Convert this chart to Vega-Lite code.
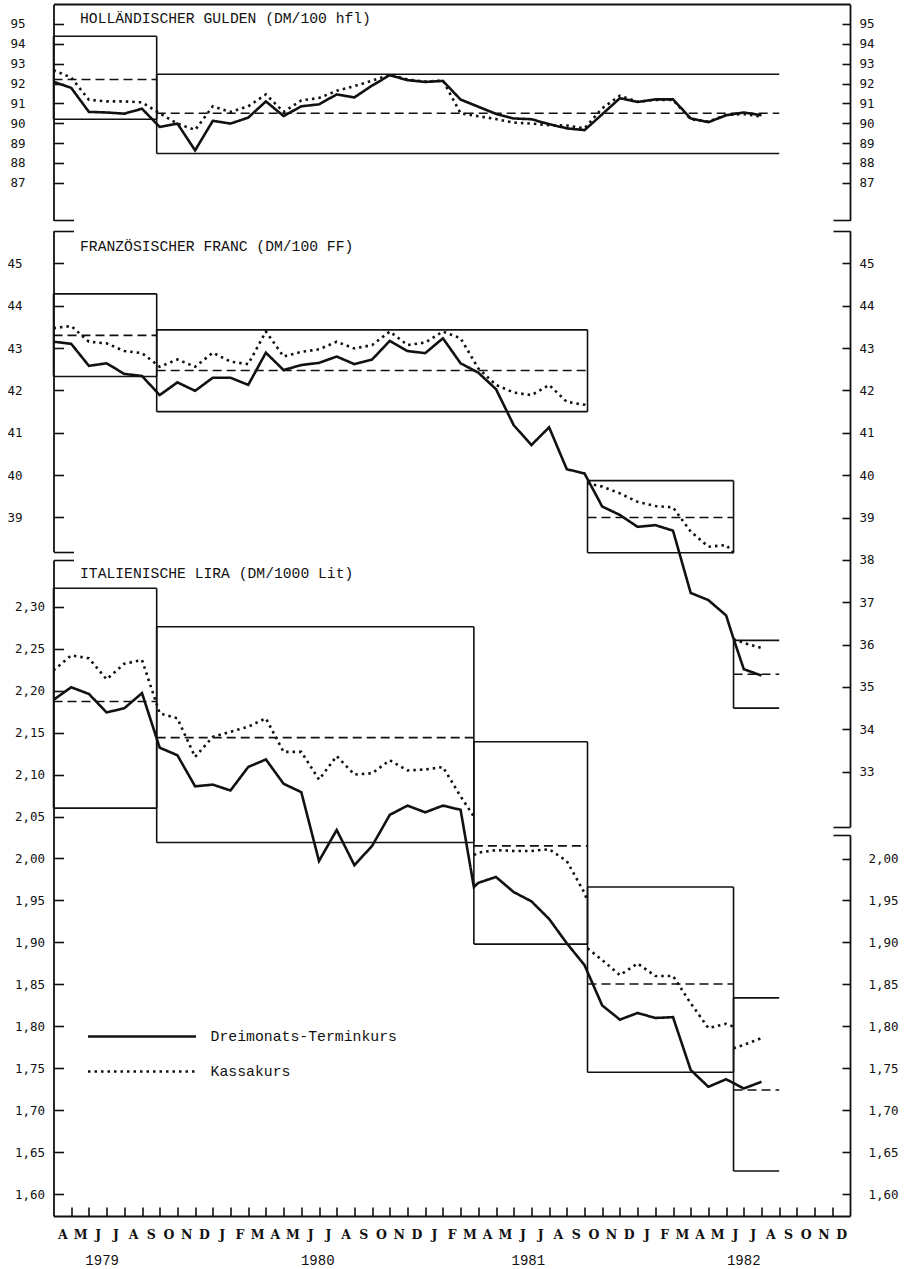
{
"$schema": "https://vega.github.io/schema/vega-lite/v6.json",
"width": 796.5, "height": 1212,
"autosize": "none",
"padding": {"left": 53.5, "top": 4, "right": 61, "bottom": 53},
"background": "white",
"config": {
 "view": {"stroke": null},
 "axis": {"domainColor": "#111", "domainWidth": 1.8, "tickColor": "#111", "tickWidth": 1.6, "labelColor": "#111", "labelFont": "DejaVu Sans Mono", "labelFontSize": 12.5, "grid": false, "title": null, "labelOverlap": false, "labelFlush": false, "labelBound": false},
 "legend": {"title": null, "orient": "none", "legendX": 78, "legendY": 1022, "padding": 0, "direction": "vertical", "symbolType": "M-6,0H6", "symbolSize": 324, "symbolStrokeWidth": 2.6, "symbolStrokeColor": "#111", "symbolFillColor": "transparent", "labelFont": "Liberation Mono", "labelFontSize": 14.8, "labelColor": "#111", "labelOffset": 58, "rowPadding": 17, "labelLimit": 400},
 "rule": {"color": "#111", "strokeWidth": 1.6},
 "line": {"color": "#111"},
 "text": {"color": "#111"}
},
"datasets": {
 "bands": [
  {"c":"G","x1":0,"x2":5.83,"upper":94.38,"central":92.2,"lower":90.2},
  {"c":"G","x1":5.83,"x2":41,"upper":92.47,"central":90.5,"lower":88.47},
  {"c":"F","x1":0,"x2":5.83,"upper":44.28,"central":43.3,"lower":42.33},
  {"c":"F","x1":5.83,"x2":30.17,"upper":43.43,"central":42.47,"lower":41.5},
  {"c":"F","x1":30.17,"x2":38.42,"upper":39.87,"central":39.0,"lower":38.17},
  {"c":"F","x1":38.42,"x2":41,"upper":36.1,"central":35.3,"lower":34.5},
  {"c":"L","x1":0,"x2":5.83,"upper":2.322,"central":2.187,"lower":2.06},
  {"c":"L","x1":5.83,"x2":23.75,"upper":2.276,"central":2.144,"lower":2.019},
  {"c":"L","x1":23.75,"x2":30.17,"upper":2.139,"central":2.015,"lower":1.898},
  {"c":"L","x1":30.17,"x2":38.42,"upper":1.966,"central":1.8505,"lower":1.7453},
  {"c":"L","x1":38.42,"x2":41,"upper":1.834,"central":1.7242,"lower":1.6277}
 ],
 "series": [
  {"c":"G","t":"D","s":1,"m":0,"v":92.09},{"c":"G","t":"D","s":1,"m":1,"v":91.78},{"c":"G","t":"D","s":1,"m":2,"v":90.57},{"c":"G","t":"D","s":1,"m":3,"v":90.54},{"c":"G","t":"D","s":1,"m":4,"v":90.48},{"c":"G","t":"D","s":1,"m":5,"v":90.73},{"c":"G","t":"D","s":1,"m":6,"v":89.81},{"c":"G","t":"D","s":1,"m":7,"v":89.98},{"c":"G","t":"D","s":1,"m":8,"v":88.63},{"c":"G","t":"D","s":1,"m":9,"v":90.12},{"c":"G","t":"D","s":1,"m":10,"v":89.98},{"c":"G","t":"D","s":1,"m":11,"v":90.28},{"c":"G","t":"D","s":1,"m":12,"v":91.1},{"c":"G","t":"D","s":1,"m":13,"v":90.36},{"c":"G","t":"D","s":1,"m":14,"v":90.85},{"c":"G","t":"D","s":1,"m":15,"v":90.95},{"c":"G","t":"D","s":1,"m":16,"v":91.45},{"c":"G","t":"D","s":1,"m":17,"v":91.3},{"c":"G","t":"D","s":1,"m":18,"v":91.9},{"c":"G","t":"D","s":1,"m":19,"v":92.42},{"c":"G","t":"D","s":1,"m":20,"v":92.17},{"c":"G","t":"D","s":1,"m":21,"v":92.08},{"c":"G","t":"D","s":1,"m":22,"v":92.13},{"c":"G","t":"D","s":1,"m":23,"v":91.19},{"c":"G","t":"D","s":1,"m":24,"v":90.83},{"c":"G","t":"D","s":1,"m":25,"v":90.47},{"c":"G","t":"D","s":1,"m":26,"v":90.24},{"c":"G","t":"D","s":1,"m":27,"v":90.2},{"c":"G","t":"D","s":1,"m":28,"v":89.95},{"c":"G","t":"D","s":1,"m":29,"v":89.74},{"c":"G","t":"D","s":1,"m":30,"v":89.65},{"c":"G","t":"D","s":1,"m":31,"v":90.45},{"c":"G","t":"D","s":1,"m":32,"v":91.26},{"c":"G","t":"D","s":1,"m":33,"v":91.07},{"c":"G","t":"D","s":1,"m":34,"v":91.2},{"c":"G","t":"D","s":1,"m":35,"v":91.2},{"c":"G","t":"D","s":1,"m":36,"v":90.24},{"c":"G","t":"D","s":1,"m":37,"v":90.05},{"c":"G","t":"D","s":1,"m":38,"v":90.4},{"c":"G","t":"D","s":1,"m":39,"v":90.54},{"c":"G","t":"D","s":1,"m":40,"v":90.4},
  {"c":"G","t":"K","s":1,"m":0,"v":92.67},{"c":"G","t":"K","s":1,"m":1,"v":92.3},{"c":"G","t":"K","s":1,"m":2,"v":91.18},{"c":"G","t":"K","s":1,"m":3,"v":91.1},{"c":"G","t":"K","s":1,"m":4,"v":91.1},{"c":"G","t":"K","s":1,"m":5,"v":91.05},{"c":"G","t":"K","s":1,"m":6,"v":90.5},{"c":"G","t":"K","s":1,"m":7,"v":89.98},{"c":"G","t":"K","s":1,"m":8,"v":89.66},{"c":"G","t":"K","s":1,"m":9,"v":90.85},{"c":"G","t":"K","s":1,"m":10,"v":90.57},{"c":"G","t":"K","s":1,"m":11,"v":90.85},{"c":"G","t":"K","s":1,"m":12,"v":91.45},{"c":"G","t":"K","s":1,"m":13,"v":90.57},{"c":"G","t":"K","s":1,"m":14,"v":91.15},{"c":"G","t":"K","s":1,"m":15,"v":91.27},{"c":"G","t":"K","s":1,"m":16,"v":91.63},{"c":"G","t":"K","s":1,"m":17,"v":91.87},{"c":"G","t":"K","s":1,"m":18,"v":92.14},{"c":"G","t":"K","s":1,"m":19,"v":92.45},{"c":"G","t":"K","s":1,"m":20,"v":92.2},{"c":"G","t":"K","s":1,"m":21,"v":92.1},{"c":"G","t":"K","s":1,"m":22,"v":92.15},{"c":"G","t":"K","s":1,"m":23,"v":90.5},{"c":"G","t":"K","s":1,"m":24,"v":90.35},{"c":"G","t":"K","s":1,"m":25,"v":90.21},{"c":"G","t":"K","s":1,"m":26,"v":90.03},{"c":"G","t":"K","s":1,"m":27,"v":89.98},{"c":"G","t":"K","s":1,"m":28,"v":89.9},{"c":"G","t":"K","s":1,"m":29,"v":89.88},{"c":"G","t":"K","s":1,"m":30,"v":89.74},{"c":"G","t":"K","s":1,"m":31,"v":90.75},{"c":"G","t":"K","s":1,"m":32,"v":91.39},{"c":"G","t":"K","s":1,"m":33,"v":91.08},{"c":"G","t":"K","s":1,"m":34,"v":91.17},{"c":"G","t":"K","s":1,"m":35,"v":91.17},{"c":"G","t":"K","s":1,"m":36,"v":90.2},{"c":"G","t":"K","s":1,"m":37,"v":90.08},{"c":"G","t":"K","s":1,"m":38,"v":90.41},{"c":"G","t":"K","s":1,"m":39,"v":90.46},{"c":"G","t":"K","s":1,"m":40,"v":90.33},
  {"c":"F","t":"D","s":1,"m":0,"v":43.15},{"c":"F","t":"D","s":1,"m":1,"v":43.1},{"c":"F","t":"D","s":1,"m":2,"v":42.58},{"c":"F","t":"D","s":1,"m":3,"v":42.64},{"c":"F","t":"D","s":1,"m":4,"v":42.39},{"c":"F","t":"D","s":1,"m":5,"v":42.34},{"c":"F","t":"D","s":1,"m":6,"v":41.89},{"c":"F","t":"D","s":1,"m":7,"v":42.19},{"c":"F","t":"D","s":1,"m":8,"v":41.99},{"c":"F","t":"D","s":1,"m":9,"v":42.3},{"c":"F","t":"D","s":1,"m":10,"v":42.3},{"c":"F","t":"D","s":1,"m":11,"v":42.13},{"c":"F","t":"D","s":1,"m":12,"v":42.89},{"c":"F","t":"D","s":1,"m":13,"v":42.48},{"c":"F","t":"D","s":1,"m":14,"v":42.6},{"c":"F","t":"D","s":1,"m":15,"v":42.65},{"c":"F","t":"D","s":1,"m":16,"v":42.8},{"c":"F","t":"D","s":1,"m":17,"v":42.62},{"c":"F","t":"D","s":1,"m":18,"v":42.73},{"c":"F","t":"D","s":1,"m":19,"v":43.17},{"c":"F","t":"D","s":1,"m":20,"v":42.93},{"c":"F","t":"D","s":1,"m":21,"v":42.88},{"c":"F","t":"D","s":1,"m":22,"v":43.23},{"c":"F","t":"D","s":1,"m":23,"v":42.64},{"c":"F","t":"D","s":1,"m":24,"v":42.42},{"c":"F","t":"D","s":1,"m":25,"v":42.03},{"c":"F","t":"D","s":1,"m":26,"v":41.18},{"c":"F","t":"D","s":1,"m":27,"v":40.71},{"c":"F","t":"D","s":1,"m":28,"v":41.13},{"c":"F","t":"D","s":1,"m":29,"v":40.14},{"c":"F","t":"D","s":1,"m":30,"v":40.04},{"c":"F","t":"D","s":1,"m":31,"v":39.26},{"c":"F","t":"D","s":1,"m":32,"v":39.06},{"c":"F","t":"D","s":1,"m":33,"v":38.78},{"c":"F","t":"D","s":1,"m":34,"v":38.82},{"c":"F","t":"D","s":1,"m":35,"v":38.69},{"c":"F","t":"D","s":1,"m":36,"v":37.22},{"c":"F","t":"D","s":1,"m":37,"v":37.05},{"c":"F","t":"D","s":1,"m":38,"v":36.69},{"c":"F","t":"D","s":1,"m":38.42,"v":36.14},{"c":"F","t":"D","s":1,"m":39,"v":35.42},{"c":"F","t":"D","s":1,"m":40,"v":35.27},
  {"c":"F","t":"K","s":1,"m":0,"v":43.47},{"c":"F","t":"K","s":1,"m":1,"v":43.52},{"c":"F","t":"K","s":1,"m":2,"v":43.15},{"c":"F","t":"K","s":1,"m":3,"v":43.11},{"c":"F","t":"K","s":1,"m":4,"v":42.93},{"c":"F","t":"K","s":1,"m":5,"v":42.88},{"c":"F","t":"K","s":1,"m":6,"v":42.56},{"c":"F","t":"K","s":1,"m":7,"v":42.73},{"c":"F","t":"K","s":1,"m":8,"v":42.56},{"c":"F","t":"K","s":1,"m":9,"v":42.89},{"c":"F","t":"K","s":1,"m":10,"v":42.68},{"c":"F","t":"K","s":1,"m":11,"v":42.62},{"c":"F","t":"K","s":1,"m":12,"v":43.39},{"c":"F","t":"K","s":1,"m":13,"v":42.8},{"c":"F","t":"K","s":1,"m":14,"v":42.91},{"c":"F","t":"K","s":1,"m":15,"v":42.97},{"c":"F","t":"K","s":1,"m":16,"v":43.15},{"c":"F","t":"K","s":1,"m":17,"v":42.99},{"c":"F","t":"K","s":1,"m":18,"v":43.07},{"c":"F","t":"K","s":1,"m":19,"v":43.39},{"c":"F","t":"K","s":1,"m":20,"v":43.07},{"c":"F","t":"K","s":1,"m":21,"v":43.13},{"c":"F","t":"K","s":1,"m":22,"v":43.39},{"c":"F","t":"K","s":1,"m":23,"v":43.23},{"c":"F","t":"K","s":1,"m":24,"v":42.52},{"c":"F","t":"K","s":1,"m":25,"v":42.13},{"c":"F","t":"K","s":1,"m":26,"v":41.95},{"c":"F","t":"K","s":1,"m":27,"v":41.89},{"c":"F","t":"K","s":1,"m":28,"v":42.13},{"c":"F","t":"K","s":1,"m":29,"v":41.73},{"c":"F","t":"K","s":1,"m":30,"v":41.66},{"c":"F","t":"K","s":1,"m":30.17,"v":41.6},
  {"c":"F","t":"K","s":2,"m":30.17,"v":39.81},{"c":"F","t":"K","s":2,"m":31,"v":39.73},{"c":"F","t":"K","s":2,"m":32,"v":39.57},{"c":"F","t":"K","s":2,"m":33,"v":39.37},{"c":"F","t":"K","s":2,"m":34,"v":39.27},{"c":"F","t":"K","s":2,"m":35,"v":39.24},{"c":"F","t":"K","s":2,"m":36,"v":38.67},{"c":"F","t":"K","s":2,"m":37,"v":38.31},{"c":"F","t":"K","s":2,"m":38,"v":38.35},{"c":"F","t":"K","s":2,"m":38.42,"v":38.16},
  {"c":"F","t":"K","s":3,"m":38.42,"v":36.13},{"c":"F","t":"K","s":3,"m":39,"v":36.04},{"c":"F","t":"K","s":3,"m":40,"v":35.92},
  {"c":"L","t":"D","s":1,"m":0,"v":2.189},{"c":"L","t":"D","s":1,"m":1,"v":2.204},{"c":"L","t":"D","s":1,"m":2,"v":2.196},{"c":"L","t":"D","s":1,"m":3,"v":2.174},{"c":"L","t":"D","s":1,"m":4,"v":2.179},{"c":"L","t":"D","s":1,"m":5,"v":2.197},{"c":"L","t":"D","s":1,"m":6,"v":2.132},{"c":"L","t":"D","s":1,"m":7,"v":2.123},{"c":"L","t":"D","s":1,"m":8,"v":2.086},{"c":"L","t":"D","s":1,"m":9,"v":2.088},{"c":"L","t":"D","s":1,"m":10,"v":2.081},{"c":"L","t":"D","s":1,"m":11,"v":2.109},{"c":"L","t":"D","s":1,"m":12,"v":2.118},{"c":"L","t":"D","s":1,"m":13,"v":2.089},{"c":"L","t":"D","s":1,"m":14,"v":2.079},{"c":"L","t":"D","s":1,"m":15,"v":1.997},{"c":"L","t":"D","s":1,"m":16,"v":2.034},{"c":"L","t":"D","s":1,"m":17,"v":1.992},{"c":"L","t":"D","s":1,"m":18,"v":2.015},{"c":"L","t":"D","s":1,"m":19,"v":2.052},{"c":"L","t":"D","s":1,"m":20,"v":2.063},{"c":"L","t":"D","s":1,"m":21,"v":2.055},{"c":"L","t":"D","s":1,"m":22,"v":2.063},{"c":"L","t":"D","s":1,"m":23,"v":2.058},{"c":"L","t":"D","s":1,"m":23.75,"v":1.966},{"c":"L","t":"D","s":1,"m":24,"v":1.971},{"c":"L","t":"D","s":1,"m":25,"v":1.978},{"c":"L","t":"D","s":1,"m":26,"v":1.96},{"c":"L","t":"D","s":1,"m":27,"v":1.949},{"c":"L","t":"D","s":1,"m":28,"v":1.928},{"c":"L","t":"D","s":1,"m":29,"v":1.899},{"c":"L","t":"D","s":1,"m":30,"v":1.873},{"c":"L","t":"D","s":1,"m":31,"v":1.825},{"c":"L","t":"D","s":1,"m":32,"v":1.808},{"c":"L","t":"D","s":1,"m":33,"v":1.816},{"c":"L","t":"D","s":1,"m":34,"v":1.81},{"c":"L","t":"D","s":1,"m":35,"v":1.811},{"c":"L","t":"D","s":1,"m":36,"v":1.748},{"c":"L","t":"D","s":1,"m":37,"v":1.728},{"c":"L","t":"D","s":1,"m":38,"v":1.737},{"c":"L","t":"D","s":1,"m":39,"v":1.726},{"c":"L","t":"D","s":1,"m":40,"v":1.734},
  {"c":"L","t":"K","s":1,"m":0,"v":2.224},{"c":"L","t":"K","s":1,"m":1,"v":2.242},{"c":"L","t":"K","s":1,"m":2,"v":2.2385},{"c":"L","t":"K","s":1,"m":3,"v":2.2135},{"c":"L","t":"K","s":1,"m":4,"v":2.232},{"c":"L","t":"K","s":1,"m":5,"v":2.2365},{"c":"L","t":"K","s":1,"m":6,"v":2.173},{"c":"L","t":"K","s":1,"m":7,"v":2.167},{"c":"L","t":"K","s":1,"m":8,"v":2.121},{"c":"L","t":"K","s":1,"m":9,"v":2.145},{"c":"L","t":"K","s":1,"m":10,"v":2.151},{"c":"L","t":"K","s":1,"m":11,"v":2.157},{"c":"L","t":"K","s":1,"m":12,"v":2.167},{"c":"L","t":"K","s":1,"m":13,"v":2.127},{"c":"L","t":"K","s":1,"m":14,"v":2.127},{"c":"L","t":"K","s":1,"m":15,"v":2.094},{"c":"L","t":"K","s":1,"m":16,"v":2.122},{"c":"L","t":"K","s":1,"m":17,"v":2.1},{"c":"L","t":"K","s":1,"m":18,"v":2.1015},{"c":"L","t":"K","s":1,"m":19,"v":2.117},{"c":"L","t":"K","s":1,"m":20,"v":2.105},{"c":"L","t":"K","s":1,"m":21,"v":2.106},{"c":"L","t":"K","s":1,"m":22,"v":2.109},{"c":"L","t":"K","s":1,"m":23,"v":2.074},{"c":"L","t":"K","s":1,"m":23.75,"v":2.05},
  {"c":"L","t":"K","s":2,"m":23.75,"v":2.004},{"c":"L","t":"K","s":2,"m":24,"v":2.007},{"c":"L","t":"K","s":2,"m":25,"v":2.01},{"c":"L","t":"K","s":2,"m":26,"v":2.009},{"c":"L","t":"K","s":2,"m":27,"v":2.009},{"c":"L","t":"K","s":2,"m":28,"v":2.011},{"c":"L","t":"K","s":2,"m":29,"v":1.997},{"c":"L","t":"K","s":2,"m":30,"v":1.959},{"c":"L","t":"K","s":2,"m":30.17,"v":1.949},
  {"c":"L","t":"K","s":3,"m":30.17,"v":1.893},{"c":"L","t":"K","s":3,"m":31,"v":1.879},{"c":"L","t":"K","s":3,"m":32,"v":1.861},{"c":"L","t":"K","s":3,"m":33,"v":1.875},{"c":"L","t":"K","s":3,"m":34,"v":1.86},{"c":"L","t":"K","s":3,"m":35,"v":1.86},{"c":"L","t":"K","s":3,"m":36,"v":1.8275},{"c":"L","t":"K","s":3,"m":37,"v":1.798},{"c":"L","t":"K","s":3,"m":38,"v":1.803},{"c":"L","t":"K","s":3,"m":38.42,"v":1.7996},
  {"c":"L","t":"K","s":4,"m":38.42,"v":1.774},{"c":"L","t":"K","s":4,"m":39,"v":1.778},{"c":"L","t":"K","s":4,"m":40,"v":1.786}
 ],
 "titles": [
  {"c":"G","label":"HOLLÄNDISCHER GULDEN (DM/100 hfl)"},
  {"c":"F","label":"FRANZÖSISCHER FRANC (DM/100 FF)"},
  {"c":"L","label":"ITALIENISCHE LIRA (DM/1000 Lit)"}
 ]
},
"layer": [
 {"data": {"name": "bands"}, "transform": [{"filter": "datum.c == 'G'"}], "mark": {"type": "rule"},
  "encoding": {
   "x": {"field": "x1", "type": "quantitative", "scale": {"domain": [0, 45], "nice": false, "zero": false},
     "axis": {"orient": "bottom", "values": [1,2,3,4,5,6,7,8,9,10,11,12,13,14,15,16,17,18,19,20,21,22,23,24,25,26,27,28,29,30,31,32,33,34,35,36,37,38,39,40,41,42,43,44], "labels": false, "tickSize": -9, "domain": true, "title": null}},
   "x2": {"field": "x2"},
   "y": {"field": "upper", "type": "quantitative", "scale": {"domain": [85.1, 96], "range": [216.4, 0.16], "nice": false, "zero": false},
     "axis": {"orient": "left", "values": [85.1,87,88,89,90,91,92,93,94,95], "tickSize": {"condition": {"test": "datum.value < 86", "value": -20}, "value": -10}, "labelExpr": "datum.value < 86 ? '' : datum.label", "labelAlign": "left", "labelPadding": 53.5, "title": null}}
  }},
 {"data": {"name": "bands"}, "transform": [{"filter": "datum.c == 'G'"}], "mark": {"type": "rule"},
  "encoding": {
   "x": {"field": "x1", "type": "quantitative", "scale": {"domain": [0, 45], "nice": false, "zero": false},
     "axis": {"orient": "bottom", "values": [0.5,1.5,2.5,3.5,4.5,5.5,6.5,7.5,8.5,9.5,10.5,11.5,12.5,13.5,14.5,15.5,16.5,17.5,18.5,19.5,20.5,21.5,22.5,23.5,24.5,25.5,26.5,27.5,28.5,29.5,30.5,31.5,32.5,33.5,34.5,35.5,36.5,37.5,38.5,39.5,40.5,41.5,42.5,43.5,44.5], "ticks": false, "domain": false, "labelExpr": "['A','M','J','J','A','S','O','N','D','J','F','M'][floor(datum.value) % 12]", "labelPadding": 12, "labelFont": "DejaVu Serif", "labelFontSize": 12.5, "labelFontWeight": "bold", "title": null}},
   "x2": {"field": "x2"},
   "y": {"field": "lower", "type": "quantitative", "scale": {"domain": [85.1, 96], "range": [216.4, 0.16], "nice": false, "zero": false},
     "axis": {"orient": "right", "values": [85.1,87,88,89,90,91,92,93,94,95], "tickSize": {"condition": {"test": "datum.value < 86", "value": -17}, "value": -8}, "labelExpr": "datum.value < 86 ? '' : datum.label", "labelAlign": "left", "labelPadding": 17, "title": null}}
  }},
 {"data": {"name": "bands"}, "transform": [{"filter": "datum.c == 'G'"}], "mark": {"type": "rule", "strokeDash": [9, 5]},
  "encoding": {
   "x": {"field": "x1", "type": "quantitative", "scale": {"domain": [0, 45], "nice": false, "zero": false},
     "axis": {"orient": "bottom", "values": [2.72, 14.9, 26.8, 38.97], "ticks": false, "domain": false, "labelExpr": "'' + (1979 + floor(datum.value / 12))", "labelPadding": 37, "labelFont": "Liberation Mono", "labelFontSize": 14, "title": null}},
   "x2": {"field": "x2"},
   "y": {"field": "central", "type": "quantitative", "scale": {"domain": [85.1, 96], "range": [216.4, 0.16], "nice": false, "zero": false}, "axis": null}
  }},
 {"data": {"name": "bands"}, "transform": [{"filter": "datum.c == 'G'"}], "mark": {"type": "rule"},
  "encoding": {
   "x": {"field": "x1", "type": "quantitative", "scale": {"domain": [0, 45], "nice": false, "zero": false},
     "axis": {"orient": "top", "ticks": false, "labels": false, "domain": true, "title": null}},
   "y": {"field": "lower", "type": "quantitative", "scale": {"domain": [85.1, 96], "range": [216.4, 0.16], "nice": false, "zero": false}, "axis": null},
   "y2": {"field": "upper"}
  }},
 {"data": {"name": "bands"}, "transform": [{"filter": "datum.c == 'G' && datum.x2 < 40.5"}], "mark": {"type": "rule"},
  "encoding": {
   "x": {"field": "x2", "type": "quantitative", "scale": {"domain": [0, 45], "nice": false, "zero": false}, "axis": null},
   "y": {"field": "lower", "type": "quantitative", "scale": {"domain": [85.1, 96], "range": [216.4, 0.16], "nice": false, "zero": false}, "axis": null},
   "y2": {"field": "upper"}
  }},
 {"data": {"name": "series"}, "transform": [{"filter": "datum.c == 'G'"}], "mark": {"type": "line", "strokeWidth": 2.6},
  "encoding": {
   "x": {"field": "m", "type": "quantitative", "scale": {"domain": [0, 45], "nice": false, "zero": false}, "axis": null},
   "y": {"field": "v", "type": "quantitative", "scale": {"domain": [85.1, 96], "range": [216.4, 0.16], "nice": false, "zero": false}, "axis": null},
   "strokeDash": {"field": "t", "type": "nominal", "scale": {"domain": ["D", "K"], "range": [[1, 0], [2.5, 4]]}, "legend": {"labelExpr": "datum.label == 'D' ? 'Dreimonats-Terminkurs' : 'Kassakurs'"}},
   "detail": {"field": "s", "type": "nominal"}
  }},
 {"data": {"name": "titles"}, "transform": [{"filter": "datum.c == 'G'"}], "mark": {"type": "text", "align": "left", "baseline": "middle", "font": "Liberation Mono", "fontSize": 14.7},
  "encoding": {
   "x": {"datum": 1.5, "type": "quantitative", "scale": {"domain": [0, 45], "nice": false, "zero": false}, "axis": null},
   "y": {"datum": 95.24, "type": "quantitative", "scale": {"domain": [85.1, 96], "range": [216.4, 0.16], "nice": false, "zero": false}, "axis": null},
   "text": {"field": "label"}
  }},

 {"data": {"name": "bands"}, "transform": [{"filter": "datum.c == 'F'"}], "mark": {"type": "rule"},
  "encoding": {
   "x": {"field": "x1", "type": "quantitative", "scale": {"domain": [0, 45], "nice": false, "zero": false}, "axis": null},
   "x2": {"field": "x2"},
   "y": {"field": "upper", "type": "quantitative", "scale": {"domain": [31.7, 45.77], "range": [822.8, 226.7], "nice": false, "zero": false},
     "axis": {"orient": "right", "values": [31.7,33,34,35,36,37,38,39,40,41,42,43,44,45,45.77], "tickSize": {"condition": {"test": "datum.value < 32 || datum.value > 45.5", "value": -17}, "value": -8}, "labelExpr": "(datum.value < 32 || datum.value > 45.5) ? '' : datum.label", "labelAlign": "left", "labelPadding": 17, "title": null}}
  }},
 {"data": {"name": "bands"}, "transform": [{"filter": "datum.c == 'F'"}], "mark": {"type": "rule"},
  "encoding": {
   "x": {"field": "x1", "type": "quantitative", "scale": {"domain": [0, 45], "nice": false, "zero": false}, "axis": null},
   "x2": {"field": "x2"},
   "y": {"field": "lower", "type": "quantitative", "scale": {"domain": [31.7, 45.77], "range": [822.8, 226.7], "nice": false, "zero": false}, "axis": null}
  }},
 {"data": {"name": "bands"}, "transform": [{"filter": "datum.c == 'F'"}], "mark": {"type": "rule", "strokeDash": [9, 5]},
  "encoding": {
   "x": {"field": "x1", "type": "quantitative", "scale": {"domain": [0, 45], "nice": false, "zero": false}, "axis": null},
   "x2": {"field": "x2"},
   "y": {"field": "central", "type": "quantitative", "scale": {"domain": [31.7, 45.77], "range": [822.8, 226.7], "nice": false, "zero": false}, "axis": null}
  }},
 {"data": {"name": "bands"}, "transform": [{"filter": "datum.c == 'F'"}], "mark": {"type": "rule"},
  "encoding": {
   "x": {"field": "x1", "type": "quantitative", "scale": {"domain": [0, 45], "nice": false, "zero": false}, "axis": null},
   "y": {"field": "lower", "type": "quantitative", "scale": {"domain": [31.7, 45.77], "range": [822.8, 226.7], "nice": false, "zero": false}, "axis": null},
   "y2": {"field": "upper"}
  }},
 {"data": {"name": "bands"}, "transform": [{"filter": "datum.c == 'F' && datum.x2 < 40.5"}], "mark": {"type": "rule"},
  "encoding": {
   "x": {"field": "x2", "type": "quantitative", "scale": {"domain": [0, 45], "nice": false, "zero": false}, "axis": null},
   "y": {"field": "lower", "type": "quantitative", "scale": {"domain": [31.7, 45.77], "range": [822.8, 226.7], "nice": false, "zero": false}, "axis": null},
   "y2": {"field": "upper"}
  }},
 {"data": {"name": "series"}, "transform": [{"filter": "datum.c == 'F'"}], "mark": {"type": "line", "strokeWidth": 2.6},
  "encoding": {
   "x": {"field": "m", "type": "quantitative", "scale": {"domain": [0, 45], "nice": false, "zero": false}, "axis": null},
   "y": {"field": "v", "type": "quantitative", "scale": {"domain": [31.7, 45.77], "range": [822.8, 226.7], "nice": false, "zero": false}, "axis": null},
   "strokeDash": {"field": "t", "type": "nominal", "scale": {"domain": ["D", "K"], "range": [[1, 0], [2.5, 4]]}, "legend": {"labelExpr": "datum.label == 'D' ? 'Dreimonats-Terminkurs' : 'Kassakurs'"}},
   "detail": {"field": "s", "type": "nominal"}
  }},
 {"data": {"name": "titles"}, "transform": [{"filter": "datum.c == 'F'"}], "mark": {"type": "text", "align": "left", "baseline": "middle", "font": "Liberation Mono", "fontSize": 14.7},
  "encoding": {
   "x": {"datum": 1.5, "type": "quantitative", "scale": {"domain": [0, 45], "nice": false, "zero": false}, "axis": null},
   "y": {"datum": 45.38, "type": "quantitative", "scale": {"domain": [38.19, 45.77], "range": [547.8, 226.7], "nice": false, "zero": false},
     "axis": {"orient": "left", "values": [38.19,39,40,41,42,43,44,45,45.77], "tickSize": {"condition": {"test": "datum.value < 38.5 || datum.value > 45.5", "value": -20}, "value": -10}, "labelExpr": "(datum.value < 38.5 || datum.value > 45.5) ? '' : datum.label", "labelAlign": "left", "labelPadding": 56.5, "title": null}},
   "text": {"field": "label"}
  }},

 {"data": {"name": "bands"}, "transform": [{"filter": "datum.c == 'L'"}], "mark": {"type": "rule"},
  "encoding": {
   "x": {"field": "x1", "type": "quantitative", "scale": {"domain": [0, 45], "nice": false, "zero": false}, "axis": null},
   "x2": {"field": "x2"},
   "y": {"field": "upper", "type": "quantitative", "scale": {"domain": [1.5741, 2.3556], "range": [1212, 556], "nice": false, "zero": false},
     "axis": {"orient": "left", "values": [1.6,1.65,1.7,1.75,1.8,1.85,1.9,1.95,2,2.05,2.1,2.15,2.2,2.25,2.3,2.3556], "tickSize": {"condition": {"test": "datum.value > 2.34", "value": -20}, "value": -10}, "labelExpr": "datum.value > 2.34 ? '' : replace(format(datum.value, '.2f'), '.', ',')", "labelAlign": "left", "labelPadding": 49, "title": null}}
  }},
 {"data": {"name": "bands"}, "transform": [{"filter": "datum.c == 'L'"}], "mark": {"type": "rule"},
  "encoding": {
   "x": {"field": "x1", "type": "quantitative", "scale": {"domain": [0, 45], "nice": false, "zero": false}, "axis": null},
   "x2": {"field": "x2"},
   "y": {"field": "lower", "type": "quantitative", "scale": {"domain": [1.5741, 2.028], "range": [1212, 831], "nice": false, "zero": false},
     "axis": {"orient": "right", "values": [1.6,1.65,1.7,1.75,1.8,1.85,1.9,1.95,2,2.028], "tickSize": {"condition": {"test": "datum.value > 2.02", "value": -17}, "value": -8}, "labelExpr": "datum.value > 2.02 ? '' : replace(format(datum.value, '.2f'), '.', ',')", "labelAlign": "left", "labelPadding": 26, "title": null}}
  }},
 {"data": {"name": "bands"}, "transform": [{"filter": "datum.c == 'L'"}], "mark": {"type": "rule", "strokeDash": [9, 5]},
  "encoding": {
   "x": {"field": "x1", "type": "quantitative", "scale": {"domain": [0, 45], "nice": false, "zero": false}, "axis": null},
   "x2": {"field": "x2"},
   "y": {"field": "central", "type": "quantitative", "scale": {"domain": [1.5741, 2.3556], "range": [1212, 556], "nice": false, "zero": false}, "axis": null}
  }},
 {"data": {"name": "bands"}, "transform": [{"filter": "datum.c == 'L'"}], "mark": {"type": "rule"},
  "encoding": {
   "x": {"field": "x1", "type": "quantitative", "scale": {"domain": [0, 45], "nice": false, "zero": false}, "axis": null},
   "y": {"field": "lower", "type": "quantitative", "scale": {"domain": [1.5741, 2.3556], "range": [1212, 556], "nice": false, "zero": false}, "axis": null},
   "y2": {"field": "upper"}
  }},
 {"data": {"name": "bands"}, "transform": [{"filter": "datum.c == 'L' && datum.x2 < 40.5"}], "mark": {"type": "rule"},
  "encoding": {
   "x": {"field": "x2", "type": "quantitative", "scale": {"domain": [0, 45], "nice": false, "zero": false}, "axis": null},
   "y": {"field": "lower", "type": "quantitative", "scale": {"domain": [1.5741, 2.3556], "range": [1212, 556], "nice": false, "zero": false}, "axis": null},
   "y2": {"field": "upper"}
  }},
 {"data": {"name": "series"}, "transform": [{"filter": "datum.c == 'L'"}], "mark": {"type": "line", "strokeWidth": 2.6},
  "encoding": {
   "x": {"field": "m", "type": "quantitative", "scale": {"domain": [0, 45], "nice": false, "zero": false}, "axis": null},
   "y": {"field": "v", "type": "quantitative", "scale": {"domain": [1.5741, 2.3556], "range": [1212, 556], "nice": false, "zero": false}, "axis": null},
   "strokeDash": {"field": "t", "type": "nominal", "scale": {"domain": ["D", "K"], "range": [[1, 0], [2.5, 4]]}, "legend": {"labelExpr": "datum.label == 'D' ? 'Dreimonats-Terminkurs' : 'Kassakurs'"}},
   "detail": {"field": "s", "type": "nominal"}
  }},
 {"data": {"name": "titles"}, "transform": [{"filter": "datum.c == 'L'"}], "mark": {"type": "text", "align": "left", "baseline": "middle", "font": "Liberation Mono", "fontSize": 14.7},
  "encoding": {
   "x": {"datum": 1.5, "type": "quantitative", "scale": {"domain": [0, 45], "nice": false, "zero": false}, "axis": null},
   "y": {"datum": 2.3386, "type": "quantitative", "scale": {"domain": [1.5741, 2.3556], "range": [1212, 556], "nice": false, "zero": false}, "axis": null},
   "text": {"field": "label"}
  }}
],
"resolve": {"scale": {"y": "independent"}, "axis": {"x": "independent", "y": "independent"}}
}
